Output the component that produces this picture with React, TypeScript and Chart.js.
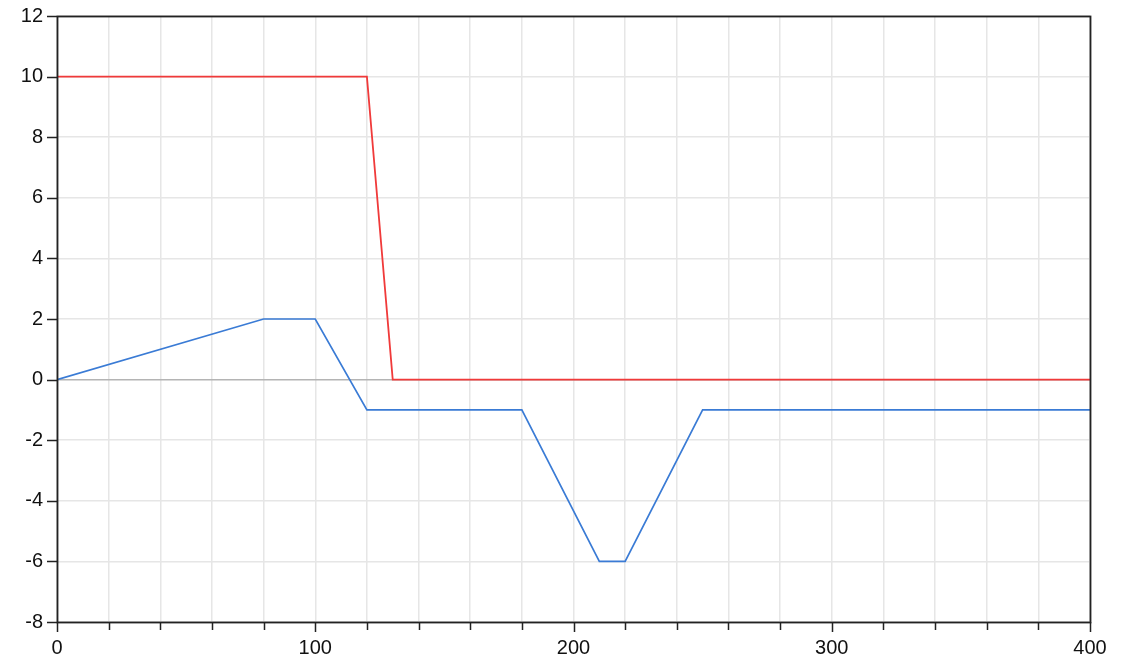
import React, { useEffect, useRef } from "react";
import { Chart, registerables } from "chart.js";

Chart.register(...registerables);

const blueX = [0, 80, 100, 120, 180, 210, 220, 250, 400];
const blueY = [0, 2, 2, -1, -1, -6, -6, -1, -1];
const redX = [0, 120, 130, 400];
const redY = [10, 10, 0, 0];

const xMin = 0;
const xMax = 400;
const xStep = 20;
const xLabelEvery = 100;
const yMin = -8;
const yMax = 12;
const yStep = 2;

const frameTicks = {
  id: "frameTicks",
  afterDraw(chart: any) {
    const { ctx, chartArea } = chart;
    const xs = chart.scales.x;
    const ys = chart.scales.y;
    ctx.save();
    ctx.strokeStyle = "#222222";
    ctx.lineWidth = 1.5;
    ctx.beginPath();
    for (let v = xMin; v <= xMax; v += xStep) {
      const px = Math.round(xs.getPixelForValue(v)) + 0.5;
      const len = v % xLabelEvery === 0 ? 10 : 8;
      ctx.moveTo(px, chartArea.bottom);
      ctx.lineTo(px, chartArea.bottom + len);
    }
    for (let v = yMin; v <= yMax; v += yStep) {
      const py = Math.round(ys.getPixelForValue(v)) + 0.5;
      ctx.moveTo(chartArea.left - 10, py);
      ctx.lineTo(chartArea.left, py);
    }
    ctx.stroke();
    ctx.lineWidth = 1.8;
    ctx.strokeRect(
      Math.round(chartArea.left) + 0.5,
      Math.round(chartArea.top) + 0.5,
      Math.round(chartArea.right - chartArea.left),
      Math.round(chartArea.bottom - chartArea.top)
    );
    ctx.restore();
  },
};

export default function App() {
  const ref = useRef<HTMLCanvasElement>(null);
  useEffect(() => {
    if (!ref.current) return;
    const font = { family: "'Liberation Sans', Arial, sans-serif", size: 20 };
    const chart = new Chart(ref.current, {
      type: "line",
      data: {
        datasets: [
          {
            label: "red",
            data: redX.map((x, i) => ({ x, y: redY[i] })),
            borderColor: "#f03a3a",
            borderWidth: 1.8,
            pointRadius: 0,
            tension: 0,
          },
          {
            label: "blue",
            data: blueX.map((x, i) => ({ x, y: blueY[i] })),
            borderColor: "#3a7bd5",
            borderWidth: 1.7,
            pointRadius: 0,
            tension: 0,
          },
        ],
      },
      options: {
        animation: false,
        responsive: false,
        layout: { padding: { top: 16, right: 37, left: 0, bottom: 0 } },
        plugins: { legend: { display: false }, tooltip: { enabled: false } },
        scales: {
          x: {
            type: "linear",
            min: xMin,
            max: xMax,
            afterFit: (s: any) => {
              s.height = 39;
              s.paddingLeft = 0;
              s.paddingRight = 0;
            },
            ticks: {
              stepSize: xStep,
              autoSkip: false,
              maxRotation: 0,
              padding: 14,
              color: "#111111",
              font,
              callback: (v: any) => (Number(v) % xLabelEvery === 0 ? String(v) : ""),
            },
            grid: { color: "#e6e6e6", lineWidth: 1.5, drawTicks: false },
            border: { display: false },
          },
          y: {
            type: "linear",
            min: yMin,
            max: yMax,
            afterFit: (s: any) => {
              s.width = 57;
              s.paddingTop = 0;
              s.paddingBottom = 0;
            },
            ticks: {
              stepSize: yStep,
              padding: 14,
              color: "#111111",
              font,
            },
            grid: {
              color: (c: any) => (c.tick && c.tick.value === 0 ? "#b4b4b4" : "#e6e6e6"),
              lineWidth: 1.5,
              drawTicks: false,
            },
            border: { display: false },
          },
        },
      },
      plugins: [frameTicks],
    });
    return () => chart.destroy();
  }, []);
  return (
    <div style={{ position: "absolute", left: 0, top: 0, width: 1127, height: 661, background: "#ffffff" }}>
      <canvas ref={ref} width={1127} height={661} />
    </div>
  );
}
